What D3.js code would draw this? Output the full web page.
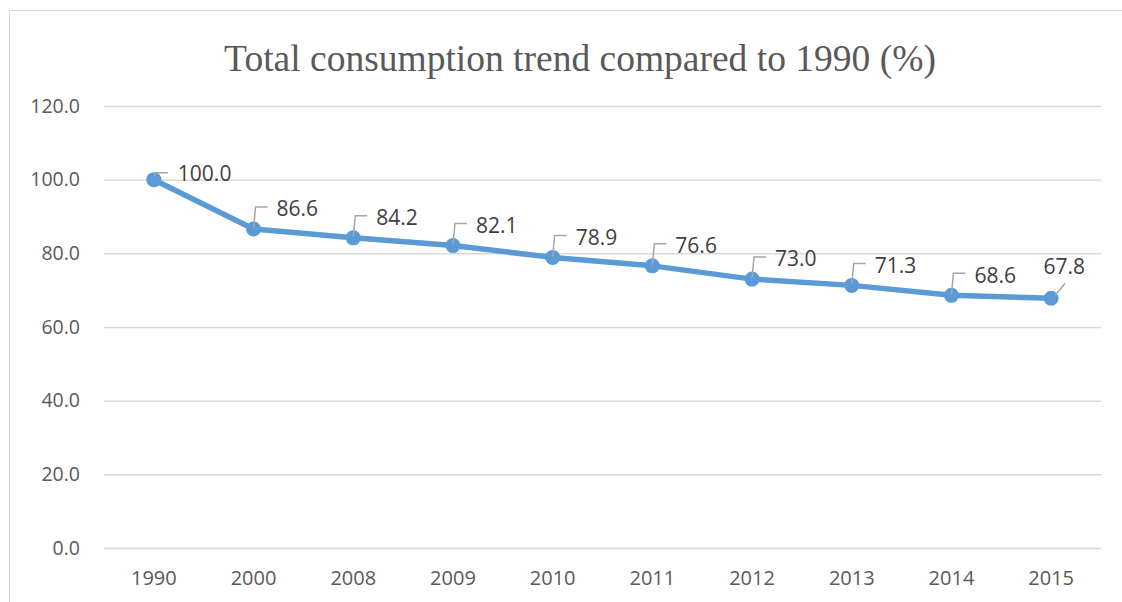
<!DOCTYPE html>
<html>
<head>
<meta charset="utf-8">
<script src="https://cdn.jsdelivr.net/npm/d3@7/dist/d3.min.js"></script>
<style>
  html, body { margin: 0; padding: 0; background: #ffffff; }
  svg { display: block; }
</style>
</head>
<body>
<svg id="chart" width="1122" height="602"></svg>
<script>
// Consumption index, 1990 = 100
const years = ["1990", "2000", "2008", "2009", "2010", "2011", "2012", "2013", "2014", "2015"];
const consumption = [100.0, 86.6, 84.2, 82.1, 78.9, 76.6, 73.0, 71.3, 68.6, 67.8];
const yTicks = [0, 20, 40, 60, 80, 100, 120];
const titleText = "Total consumption trend compared to 1990 (%)";

const svg = d3.select("#chart");
const plot = { left: 104, right: 1101, top: 106, bottom: 548 };

// chart frame
svg.append("rect")
  .attr("x", 9.5).attr("y", 10.5)
  .attr("width", 1125).attr("height", 600)
  .attr("fill", "#ffffff")
  .attr("stroke", "#d9d9d9")
  .attr("stroke-width", 1);

const x = d3.scaleBand()
  .domain(years)
  .range([plot.left, plot.right])
  .paddingInner(0).paddingOuter(0);

const y = d3.scaleLinear()
  .domain([0, 120])
  .range([plot.bottom, plot.top]);

// title
svg.append("text")
  .attr("x", 580).attr("y", 71)
  .attr("text-anchor", "middle")
  .attr("font-family", "'Liberation Serif', 'Times New Roman', serif")
  .attr("font-size", 37.5)
  .attr("fill", "#595959")
  .text(titleText);

// horizontal gridlines + y labels via axis
const yAxis = d3.axisLeft(y)
  .tickValues(yTicks)
  .tickSize(-(plot.right - plot.left))
  .tickPadding(24)
  .tickFormat(d3.format(".1f"));

const gy = svg.append("g")
  .attr("transform", `translate(${plot.left},0)`)
  .call(yAxis);
gy.select(".domain").remove();
gy.selectAll(".tick line")
  .attr("stroke", "#d9d9d9")
  .attr("stroke-width", 1.5);
gy.selectAll(".tick text")
  .attr("font-family", "'Open Sans', 'Noto Sans', sans-serif")
  .attr("font-size", 19.5)
  .attr("fill", "#595959");

// category axis labels
const xAxis = d3.axisBottom(x).tickSize(0).tickPadding(23);
const gx = svg.append("g")
  .attr("transform", `translate(0,${plot.bottom})`)
  .call(xAxis);
gx.select(".domain").remove();
gx.selectAll(".tick text")
  .attr("font-family", "'Open Sans', 'Noto Sans', sans-serif")
  .attr("font-size", 20)
  .attr("fill", "#595959");

const px = (d, i) => x(years[i]) + x.bandwidth() / 2;
const py = d => y(d);

// series line
const line = d3.line()
  .x((d, i) => px(d, i))
  .y(d => py(d));

svg.append("path")
  .datum(consumption)
  .attr("d", line)
  .attr("fill", "none")
  .attr("stroke", "#5b9bd5")
  .attr("stroke-width", 5.5)
  .attr("stroke-linejoin", "round");

// markers
svg.selectAll("circle.pt")
  .data(consumption)
  .join("circle")
  .attr("class", "pt")
  .attr("cx", (d, i) => px(d, i))
  .attr("cy", d => py(d))
  .attr("r", 7.5)
  .attr("fill", "#5b9bd5");

// data labels with leader lines
const last = consumption.length - 1;
const labels = svg.append("g");
consumption.forEach((v, i) => {
  const cx = px(v, i), cy = py(v);
  let pts, tx, ty, anchor;
  if (i === 0) {
    pts = [[cx, cy - 3], [cx + 2, cy - 7], [cx + 14, cy - 7]];
    tx = cx + 24; ty = cy - 6; anchor = "start";
  } else if (i === last) {
    pts = [[cx + 4, cy - 3], [cx + 14, cy - 15]];
    tx = cx + 13; ty = cy - 32; anchor = "middle";
  } else {
    pts = [[cx, cy - 1], [cx + 2, cy - 22], [cx + 14, cy - 22]];
    tx = cx + 23; ty = cy - 20; anchor = "start";
  }
  labels.append("path")
    .attr("d", d3.line()(pts))
    .attr("fill", "none")
    .attr("stroke", "#a6a6a6")
    .attr("stroke-width", 1.5);
  labels.append("text")
    .attr("x", tx).attr("y", ty)
    .attr("dy", "0.35em")
    .attr("text-anchor", anchor)
    .attr("font-family", "'Open Sans', 'Noto Sans', sans-serif")
    .attr("font-size", 21)
    .attr("fill", "#404040")
    .text(d3.format(".1f")(v));
});
</script>
</body>
</html>
